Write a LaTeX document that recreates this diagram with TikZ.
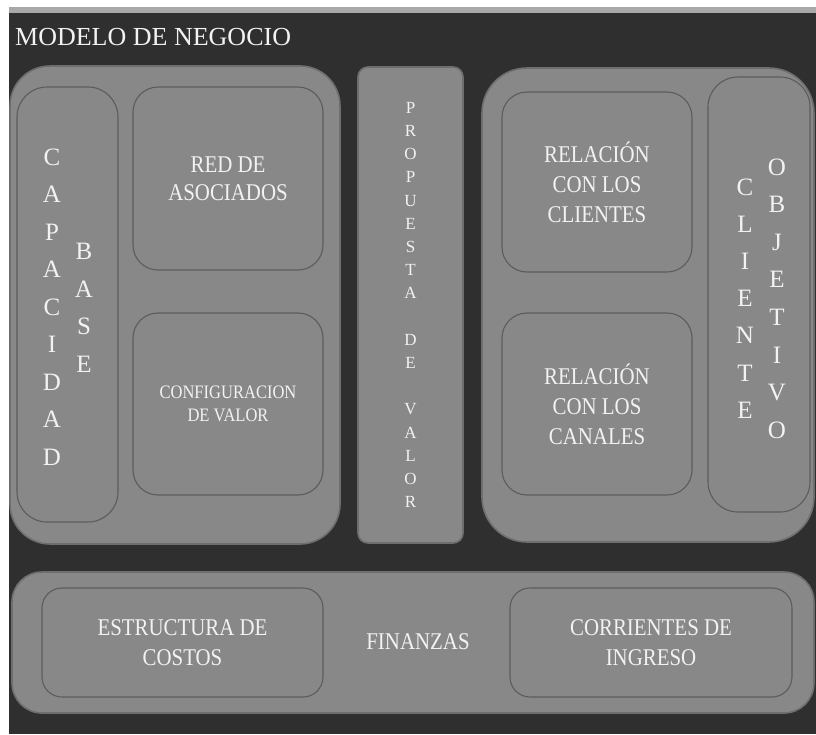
\documentclass[tikz,border=0pt]{standalone}
\usepackage{fontspec}
\setmainfont{Liberation Serif}
\newfontfamily\condfont[FakeStretch=0.87]{Liberation Serif}
\definecolor{bgdark}{HTML}{2F2F2F}
\definecolor{topgray}{HTML}{A8A8A8}
\definecolor{boxgray}{HTML}{888888}
\definecolor{outerline}{HTML}{6E6E6E}
\definecolor{innerline}{HTML}{5C5C5C}
\definecolor{txt}{HTML}{F2F2F2}
\tikzset{
  outerbox/.style={draw=outerline, line width=1.6pt, fill=boxgray, inner sep=0pt},
  innerbox/.style={draw=innerline, line width=1.1pt, fill=boxgray, inner sep=0pt, text=txt, align=center},
  lbl/.style={text=txt, align=center, inner sep=0pt},
  letters/.style={text=txt, align=center, inner sep=0pt, font=\fontsize{25}{37.5}\selectfont},
}
\begin{document}
\begin{tikzpicture}[x=1pt,y=-1pt]
\useasboundingbox (0,0) rectangle (816,734);
\fill[white] (0,0) rectangle (816,734);
\fill[bgdark] (9,13) rectangle (816,734);
\fill[topgray] (9,7) rectangle (816,13);

\node[anchor=base west, text=txt, inner sep=0pt, font=\fontsize{26}{30}\selectfont] (title) at (15,45) {MODELO DE NEGOCIO};

% left block
\node[outerbox, rounded corners=40pt, minimum width=330pt, minimum height=478pt] (left) at (175,305) {};
\node[innerbox, rounded corners=30pt, minimum width=101pt, minimum height=435pt] (cap) at (67.5,304.5) {};
\node[letters] (capa) at (52,307) {C\\A\\P\\A\\C\\I\\D\\A\\D};
\node[letters] (base) at (84,308) {B\\A\\S\\E};
\node[innerbox, rounded corners=25pt, minimum width=190pt, minimum height=183pt,
      font=\condfont\fontsize{24}{28}\selectfont] (red) at (228,178.5) {RED DE\\ASOCIADOS};
\node[innerbox, rounded corners=25pt, minimum width=190pt, minimum height=182pt,
      font=\condfont\fontsize{19}{23}\selectfont] (conf) at (228,404) {CONFIGURACION\\DE VALOR};

% centre column
\node[outerbox, rounded corners=10pt, minimum width=105pt, minimum height=476pt,
      text=txt, align=center, font=\fontsize{17}{23.2}\selectfont] (prop) at (410.5,305)
  {P\\R\\O\\P\\U\\E\\S\\T\\A\\\mbox{}\\D\\E\\\mbox{}\\V\\A\\L\\O\\R};

% right block
\node[outerbox, rounded corners=45pt, minimum width=332pt, minimum height=474pt] (right) at (648,305) {};
\node[innerbox, rounded corners=25pt, minimum width=190pt, minimum height=180pt,
      font=\condfont\fontsize{24}{30}\selectfont] (relcli) at (597,182) {RELACIÓN\\CON LOS\\CLIENTES};
\node[innerbox, rounded corners=25pt, minimum width=190pt, minimum height=182pt,
      font=\condfont\fontsize{24}{30}\selectfont] (relcan) at (597,404) {RELACIÓN\\CON LOS\\CANALES};
\node[innerbox, rounded corners=30pt, minimum width=102pt, minimum height=435pt] (cliobj) at (759,294.5) {};
\node[letters, font=\fontsize{25}{37.2}\selectfont] (cli) at (745,298.5) {C\\L\\I\\E\\N\\T\\E};
\node[letters, font=\fontsize{25}{37.6}\selectfont] (obj) at (777,298.5) {O\\B\\J\\E\\T\\I\\V\\O};

% bottom block
\node[outerbox, rounded corners=30pt, minimum width=802pt, minimum height=141pt] (fin) at (413,642.5) {};
\node[innerbox, rounded corners=20pt, minimum width=281pt, minimum height=109pt,
      font=\condfont\fontsize{24}{30}\selectfont] (costos) at (182.5,642.5) {ESTRUCTURA DE\\COSTOS};
\node[lbl, font=\condfont\fontsize{24}{30}\selectfont] (finanzas) at (418,642) {FINANZAS};
\node[innerbox, rounded corners=20pt, minimum width=282pt, minimum height=109pt,
      font=\condfont\fontsize{24}{30}\selectfont] (ingreso) at (651,642.5) {CORRIENTES DE\\INGRESO};
\end{tikzpicture}
\end{document}
